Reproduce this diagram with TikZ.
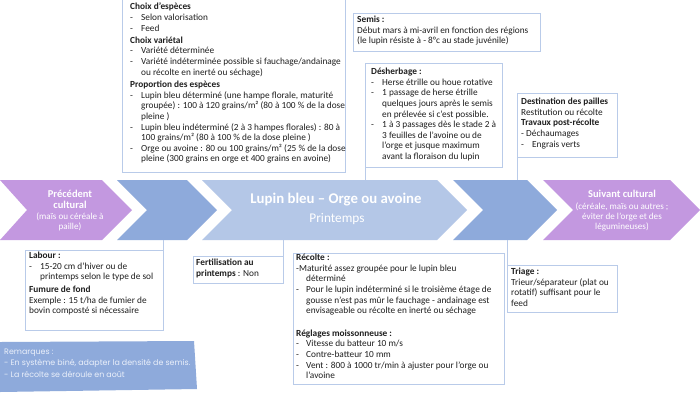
\documentclass[tikz,border=0pt]{standalone}
\usepackage{fontspec}
\setmainfont{Carlito}
\newfontfamily\remfont{Poppins}
\definecolor{purp}{RGB}{195,152,224}
\definecolor{midblue}{RGB}{142,170,219}
\definecolor{lightblue}{RGB}{180,199,231}
\definecolor{boxline}{RGB}{185,203,233}
\definecolor{remtext}{RGB}{235,240,250}
\newcommand{\itm}[1]{\makebox[11pt][l]{-}#1}
\newcommand{\cnt}{\hspace*{11pt}}
\begin{document}
\begin{tikzpicture}[x=1pt,y=-1pt,
  box/.style={draw=boxline, line width=0.7pt, anchor=north west, inner sep=0pt, fill=white},
  txt/.style={anchor=north west, inner sep=0pt, align=left, font=\fontsize{9.3}{10.6}\selectfont, text=black!88},
  conn/.style={draw=boxline, line width=0.7pt},
  wtxt/.style={text=white, align=center, inner sep=0pt}]
\useasboundingbox (0,0) rectangle (700,405);
\fill[white] (0,0) rectangle (700,405);
% band reference coordinates
\coordinate (bandtop) at (0,180);
\coordinate (bandbot) at (0,240);
% chevrons
\fill[purp] (0,180) -- (102,180) -- (132,210) -- (102,240) -- (0,240) -- (27,210) -- cycle;
\fill[midblue] (117,180) -- (187,180) -- (217,210) -- (187,240) -- (117,240) -- (147,210) -- cycle;
\fill[lightblue] (202,180) -- (437,180) -- (467,210) -- (437,240) -- (202,240) -- (232,210) -- cycle;
\fill[midblue] (453,180) -- (527,180) -- (557,210) -- (527,240) -- (453,240) -- (483,210) -- cycle;
\fill[purp] (543,180) -- (670,180) -- (700,210) -- (670,240) -- (543,240) -- (573,210) -- cycle;
% chevron texts
\node[wtxt, font=\bfseries\fontsize{10.5}{10.8}\selectfont] (prec) at (70,199) {Précédent\\cultural};
\node[wtxt, font=\fontsize{9.1}{10.2}\selectfont] (precsub) at (70,222) {(maïs ou céréale à\\paille)};
\node[wtxt, font=\bfseries\fontsize{14.8}{16}\selectfont] (lupin) at (336,200) {Lupin bleu – Orge ou avoine};
\node[wtxt, font=\fontsize{13.3}{14}\selectfont] (print) at (337,219) {Printemps};
\node[wtxt, font=\bfseries\fontsize{10.5}{11}\selectfont] (suiv) at (622,194) {Suivant cultural};
\node[wtxt, font=\fontsize{9.1}{10.4}\selectfont] (suivsub) at (622,217) {(céréale, maïs ou autres ;\\éviter de l’orge et des\\légumineuses)};
% boxes
\node[box, minimum width=223pt, minimum height=174pt] (choix) at (122,-2) {};
\node[box, minimum width=187pt, minimum height=38pt] (semis) at (353,13) {};
\node[box, minimum width=137pt, minimum height=104pt] (desh) at (365,63) {};
\node[box, minimum width=100pt, minimum height=64pt] (dest) at (517,93) {};
\node[box, minimum width=138pt, minimum height=80pt] (labour) at (25,250) {};
\node[box, minimum width=90pt, minimum height=27pt] (fert) at (193,256) {};
\node[box, minimum width=211pt, minimum height=131pt] (recolte) at (293,253) {};
\node[box, minimum width=110pt, minimum height=47pt] (triage) at (507,265) {};
% connectors
\draw[conn] (desh.south west) -- (desh.south west |- bandtop);
\draw[conn] (dest.south west) -- (dest.south west |- bandtop);
\draw[conn] (labour.north east) -- (labour.north east |- bandbot);
\draw[conn] (fert.north east) -- (fert.north east |- bandbot);
\draw[conn] (triage.north west) -- (triage.north west |- bandbot);
% box texts
\node[txt] (choixt) at (130,3) {\textbf{Choix d’espèces}\\
\itm{Selon valorisation}\\
\itm{Feed}\\[1.5pt]
\textbf{Choix variétal}\\
\itm{Variété déterminée}\\
\itm{Variété indéterminée possible si fauchage/andainage}\\
\cnt ou récolte en inerté ou séchage)\\[2pt]
\textbf{Proportion des espèces}\\
\itm{Lupin bleu déterminé (une hampe florale, maturité}\\
\cnt groupée) : 100 à 120 grains/m² (80 à 100 \% de la dose\\
\cnt pleine )\\
\itm{Lupin bleu indéterminé (2 à 3 hampes florales) : 80 à}\\
\cnt 100 grains/m² (80 à 100 \% de la dose pleine )\\
\itm{Orge ou avoine : 80 ou 100 grains/m² (25 \% de la dose}\\
\cnt pleine (300 grains en orge et 400 grains en avoine)};
\node[txt] (semist) at (357,16) {\textbf{Semis :}\\
Début mars à mi-avril en fonction des régions\\
(le lupin résiste à - 8°c au stade juvénile)};
\node[txt] (desht) at (371,68) {\textbf{Désherbage :}\\
\itm{Herse étrille ou houe rotative}\\
\itm{1 passage de herse étrille}\\
\cnt quelques jours après le semis\\
\cnt en prélevée si c’est possible.\\
\itm{1 à 3 passages dès le stade 2 à}\\
\cnt 3 feuilles de l’avoine ou de\\
\cnt l’orge et jusque maximum\\
\cnt avant la floraison du lupin};
\node[txt] (destt) at (521,98) {\textbf{Destination des pailles}\\
Restitution ou récolte\\
\textbf{Travaux post-récolte}\\
- Déchaumages\\
\itm{Engrais verts}};
\node[txt] (labourt) at (29,252) {\textbf{Labour :}\\
\itm{15-20 cm d’hiver ou de}\\
\cnt printemps selon le type de sol\\[2pt]
\textbf{Fumure de fond}\\
Exemple : 15 t/ha de fumier de\\
bovin composté si nécessaire};
\node[txt] (fertt) at (196,259) {\textbf{Fertilisation au}\\
\textbf{printemps} : Non};
\node[txt] (recoltet) at (296,254) {\textbf{Récolte :}\\
-Maturité assez groupée pour le lupin bleu\\
\hspace*{10pt}déterminé\\
\makebox[10pt][l]{-}Pour le lupin indéterminé si le troisième étage de\\
\hspace*{10pt}gousse n’est pas mûr le fauchage - andainage est\\
\hspace*{10pt}envisageable ou récolte en inerté ou séchage\\[12pt]
\textbf{Réglages moissonneuse :}\\
\makebox[10pt][l]{-}Vitesse du batteur 10 m/s\\
\makebox[10pt][l]{-}Contre-batteur 10 mm\\
\makebox[10pt][l]{-}Vent : 800 à 1000 tr/min à ajuster pour l’orge ou\\
\hspace*{10pt}l’avoine};
\node[txt] (triaget) at (511,268) {\textbf{Triage :}\\
Trieur/séparateur (plat ou\\
rotatif) suffisant pour le\\
feed};
% remarks
\fill[midblue] (0,342) -- (194,341) -- (197,389) -- (0,392) -- cycle;
\node[anchor=north west, inner sep=0pt, align=left, text=remtext, font=\remfont\fontsize{7.9}{11.2}\selectfont] (rem) at (4,349) {Remarques :\\
- En système biné, adapter la densité de semis.\\
- La récolte se déroule en août};
\end{tikzpicture}
\end{document}
